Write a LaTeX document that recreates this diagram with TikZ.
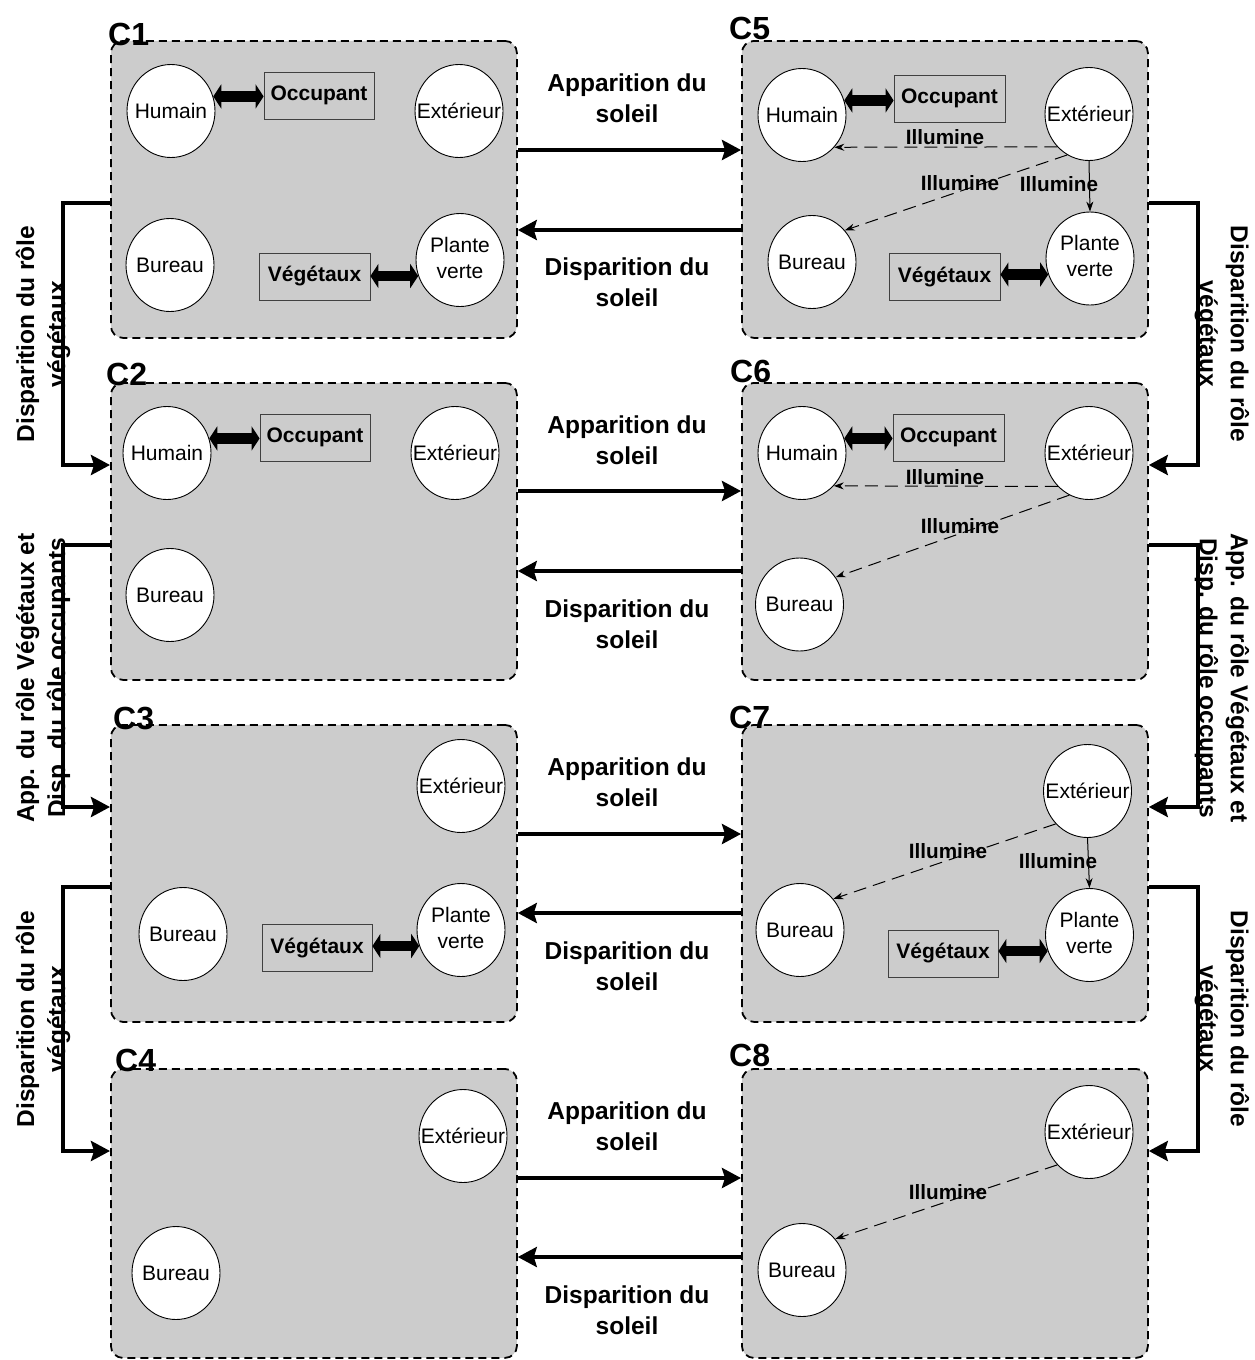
\documentclass[tikz,border=0pt]{standalone}
\usepackage{fontspec}
\setmainfont{Liberation Sans}
\usetikzlibrary{arrows.meta,shapes.geometric}
\definecolor{boxgray}{RGB}{204,204,204}
\newcommand\ctx[1]{\makebox[0pt]{#1}}
\newcommand\twol[2]{\makebox[0pt]{\begin{tabular}{@{}c@{}}#1\\#2\end{tabular}}}
\begin{document}
\begin{tikzpicture}[x=1pt,y=-1pt,
 cbox/.style={draw=black, fill=boxgray, line width=1.8pt, dash pattern=on 8pt off 5pt, rounded corners=12pt, minimum width=406pt, minimum height=297pt, anchor=north west, inner sep=0pt},
 ent/.style={ellipse, draw=black, line width=0.9pt, fill=white, minimum width=88pt, minimum height=93pt, inner sep=0pt, font=\fontsize{21pt}{26pt}\selectfont},
 role/.style={draw=black!75, line width=0.8pt, minimum width=110pt, minimum height=47pt, inner sep=0pt, font=\bfseries\fontsize{21pt}{25pt}\selectfont},
 fat/.style={line width=10.5pt, {Triangle[length=8pt,width=24pt]}-{Triangle[length=8pt,width=24pt]}},
 illum/.style={line width=1pt, dash pattern=on 13pt off 7pt, -{Stealth[length=10pt,width=7pt]}},
 illums/.style={line width=1pt, -{Stealth[length=10pt,width=7pt]}},
 ilbl/.style={font=\bfseries\fontsize{20.7pt}{25pt}\selectfont, inner sep=0pt},
 big/.style={line width=3.8pt, -{Stealth[length=19pt,width=20pt,inset=3pt]}},
 blbl/.style={font=\bfseries\fontsize{24.5pt}{31pt}\selectfont, align=center, inner sep=0pt},
 clbl/.style={font=\bfseries\fontsize{32pt}{32pt}\selectfont, inner sep=0pt, anchor=base west},
]
\useasboundingbox (0,0) rectangle (1254,1360);

% ---- boxes
\node[cbox] (c1) at (110,40) {};
\node[cbox] (c2) at (110,382) {};
\node[cbox] (c3) at (110,724) {};
\node[cbox, minimum height=289pt] (c4) at (110,1068) {};
\node[cbox] (c5) at (741,40) {};
\node[cbox] (c6) at (741,382) {};
\node[cbox] (c7) at (741,724) {};
\node[cbox, minimum height=289pt] (c8) at (741,1068) {};

% ---- box labels
\node[clbl] (l1) at (108,45) {C1};
\node[clbl] (l2) at (106,385) {C2};
\node[clbl] (l3) at (113,729) {C3};
\node[clbl] (l4) at (115,1071) {C4};
\node[clbl] (l5) at (729,39) {C5};
\node[clbl] (l6) at (730,382) {C6};
\node[clbl] (l7) at (729,728) {C7};
\node[clbl] (l8) at (729,1066) {C8};

% ---- C1
\node[ent] (h1) at (171,111) {\ctx{Humain}};
\node[role] (o1) at (319,95.5) {Occupant};
\node[ent] (e1) at (459,111) {\ctx{Extérieur}};
\node[ent] (b1) at (170,265) {\ctx{Bureau}};
\node[ent] (p1) at (460,260) {\twol{Plante}{verte}};
\node[role, minimum width=111pt] (v1) at (314.5,276.5) {Végétaux};
\draw[fat] (h1.19) -- (h1.19 -| o1.west);
\draw[fat] (p1.201) -- (p1.201 -| v1.east);

% ---- C2
\node[ent] (h2) at (167,453) {\ctx{Humain}};
\node[role] (o2) at (315,437.5) {Occupant};
\node[ent] (e2) at (455,453) {\ctx{Extérieur}};
\node[ent] (b2) at (170,595) {\ctx{Bureau}};
\draw[fat] (h2.19) -- (h2.19 -| o2.west);

% ---- C3
\node[ent] (e3) at (461,786) {\ctx{Extérieur}};
\node[ent] (b3) at (183,934) {\ctx{Bureau}};
\node[ent] (p3) at (461,930) {\twol{Plante}{verte}};
\node[role] (v3) at (317,948) {Végétaux};
\draw[fat] (p3.201) -- (p3.201 -| v3.east);

% ---- C4
\node[ent] (e4) at (463,1136) {\ctx{Extérieur}};
\node[ent] (b4) at (176,1273) {\ctx{Bureau}};

% ---- C5
\node[ent] (h5) at (802,115) {\ctx{Humain}};
\node[role, minimum width=111pt] (o5) at (949.5,98.5) {Occupant};
\node[ent] (e5) at (1089,114) {\ctx{Extérieur}};
\node[ent] (b5) at (812,262) {\ctx{Bureau}};
\node[ent] (p5) at (1090,258.5) {\twol{Plante}{verte}};
\node[role, minimum width=111pt] (v5) at (944.5,277) {Végétaux};
\draw[fat] (h5.19) -- (h5.19 -| o5.west);
\draw[fat] (p5.201) -- (p5.201 -| v5.east);
\draw[illum] (e5.226) -- (h5.-45);
\draw[illum] (e5.242) -- (b5.44);
\draw[illums] (e5.south) -- (p5.north);
\node[ilbl] (i5a) at (945,137) {Illumine};
\node[ilbl] (i5b) at (960,183) {Illumine};
\node[ilbl] (i5c) at (1059,184) {Illumine};

% ---- C6
\node[ent] (h6) at (802,453) {\ctx{Humain}};
\node[role, minimum width=111pt] (o6) at (948.5,437.5) {Occupant};
\node[ent] (e6) at (1089,453) {\ctx{Extérieur}};
\node[ent] (b6) at (799.5,604.5) {\ctx{Bureau}};
\draw[fat] (h6.19) -- (h6.19 -| o6.west);
\draw[illum] (e6.227) -- (h6.-46);
\draw[illum] (e6.245) -- (b6.37);
\node[ilbl] (i6a) at (945,477) {Illumine};
\node[ilbl] (i6b) at (960,526) {Illumine};

% ---- C7
\node[ent] (e7) at (1087.5,791) {\ctx{Extérieur}};
\node[ent] (b7) at (800,930) {\ctx{Bureau}};
\node[ent] (p7) at (1089.5,935) {\twol{Plante}{verte}};
\node[role] (v7) at (943,953.5) {Végétaux};
\draw[fat] (p7.201) -- (p7.201 -| v7.east);
\draw[illum] (e7.226) -- (b7.43);
\draw[illums] (e7.south) -- (p7.north);
\node[ilbl] (i7a) at (948,851) {Illumine};
\node[ilbl] (i7b) at (1058,861.5) {Illumine};

% ---- C8
\node[ent] (e8) at (1089,1132) {\ctx{Extérieur}};
\node[ent] (b8) at (802,1270) {\ctx{Bureau}};
\draw[illum] (e8.226) -- (b8.43);
\node[ilbl] (i8a) at (948,1192) {Illumine};

% ---- horizontal transitions
\draw[big] ([yshift=-110pt]c1.north east) -- ([yshift=-110pt]c5.north west);
\draw[big] ([yshift=-190pt]c5.north west) -- ([yshift=-190pt]c1.north east);
\draw[big] ([yshift=-109pt]c2.north east) -- ([yshift=-109pt]c6.north west);
\draw[big] ([yshift=-189pt]c6.north west) -- ([yshift=-189pt]c2.north east);
\draw[big] ([yshift=-110pt]c3.north east) -- ([yshift=-110pt]c7.north west);
\draw[big] ([yshift=-189pt]c7.north west) -- ([yshift=-189pt]c3.north east);
\draw[big] ([yshift=-110pt]c4.north east) -- ([yshift=-110pt]c8.north west);
\draw[big] ([yshift=-189pt]c8.north west) -- ([yshift=-189pt]c4.north east);

\foreach \t/\n in {40/1,382/2,724/3,1068/4}{
  \node[blbl] (ap\n) at (627,\t+58.5) {Apparition du\\soleil};
  \node[blbl] (dp\n) at (627,\t+242) {Disparition du\\soleil};
}

% ---- side transitions (left)
\draw[big] ([yshift=-163pt]c1.north west) -- ++(-47,0) |- ([yshift=-83pt]c2.north west);
\draw[big] ([yshift=-163pt]c2.north west) -- ++(-47,0) |- ([yshift=-83pt]c3.north west);
\draw[big] ([yshift=-163pt]c3.north west) -- ++(-47,0) |- ([yshift=-83pt]c4.north west);
% ---- side transitions (right)
\draw[big] ([yshift=-163pt]c5.north east) -- ++(49,0) |- ([yshift=-83pt]c6.north east);
\draw[big] ([yshift=-163pt]c6.north east) -- ++(49,0) |- ([yshift=-83pt]c7.north east);
\draw[big] ([yshift=-163pt]c7.north east) -- ++(49,0) |- ([yshift=-83pt]c8.north east);

\node[blbl, rotate=90] (sl1) at (43,334) {Disparition du rôle\\végétaux};
\node[blbl, rotate=90] (sl2) at (43,678) {App. du rôle Végétaux et\\Disp. du rôle occupants};
\node[blbl, rotate=90] (sl3) at (43,1019) {Disparition du rôle\\végétaux};
\node[blbl, rotate=-90] (sr1) at (1222,334) {Disparition du rôle\\végétaux};
\node[blbl, rotate=-90] (sr2) at (1222,678) {App. du rôle Végétaux et\\Disp. du rôle occupants};
\node[blbl, rotate=-90] (sr3) at (1222,1019) {Disparition du rôle\\végétaux};
\end{tikzpicture}
\end{document}
